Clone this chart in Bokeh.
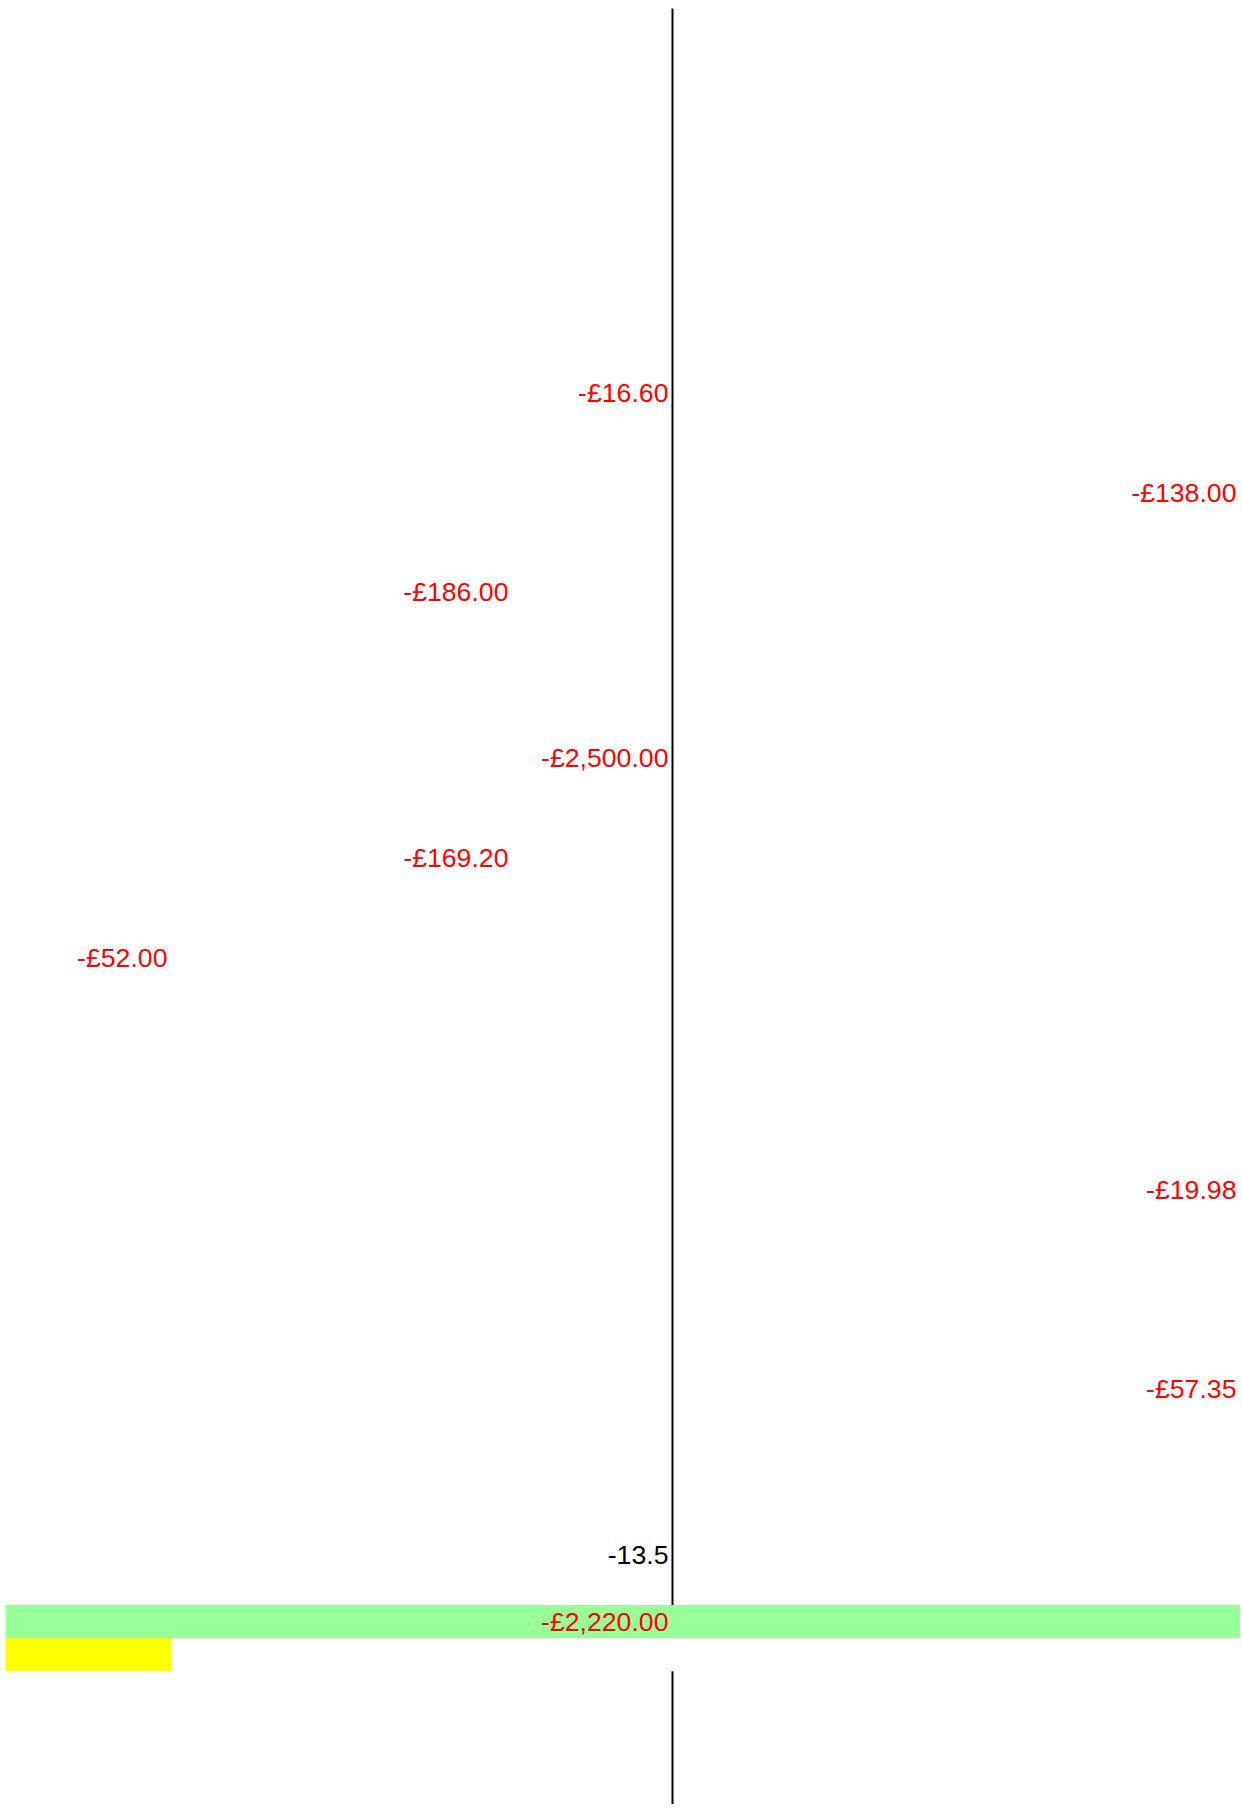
from bokeh.plotting import figure
from bokeh.models import Range1d, ColumnDataSource
from bokeh.core.properties import value
from bokeh.embed import file_html
from bokeh.resources import INLINE

# ---------------- data ----------------
amounts = [-16.60, -138.00, -186.00, -2500.00, -169.20, -52.00, -19.98, -57.35, -2220.00]
amount_rows = [11, 14, 17, 22, 25, 28, 35, 41, 48]
amount_cols = [3, 4, 2, 3, 2, 1, 4, 4, 3]

tick_labels = ["-13.5"]
tick_rows = [46]
tick_cols = [3]

band_rows = [48, 49]
band_start_cols = [0, 0]
band_end_cols = [4, 1]
band_colors = ["#99FF99", "#FFFF00"]

axis_col = 3
axis_gap_rows = [48, 49]

# ---------------- layout ----------------
W, H = 1240, 1804
ORIGIN_X, ORIGIN_Y = 0, 0               # page position of the figure
col_edges = [5, 171, 512, 672, 1240]    # page pixels
ROW_H = 33.2
ROW0_CENTER = 27.4                       # page y of row 0 centre
LINE_TOP = 8


def row_of(page_y):
    return (page_y - ROW0_CENTER) / ROW_H


def money(v):
    s = f"£{abs(v):,.2f}"
    return "-" + s if v < 0 else s


p = figure(width=W, height=H, output_backend="svg", toolbar_location=None,
           x_range=Range1d(ORIGIN_X, ORIGIN_X + W),
           y_range=Range1d(row_of(ORIGIN_Y + H), row_of(ORIGIN_Y)),
           x_axis_location=None, y_axis_location=None,
           min_border=0, outline_line_color=None,
           background_fill_color="white", border_fill_color="white")
p.xgrid.visible = False
p.ygrid.visible = False

# bands
band_src = ColumnDataSource(dict(
    y=band_rows,
    left=[col_edges[c] for c in band_start_cols],
    right=[col_edges[c] for c in band_end_cols],
    color=band_colors,
))
p.hbar(y="y", left="left", right="right", height=1.0, color="color",
       line_color=None, source=band_src)

# vertical axis line with a gap where the bands are
ax_x = col_edges[axis_col]
gap_top = min(axis_gap_rows) - 0.5
gap_bot = max(axis_gap_rows) + 0.5
p.segment(x0=[ax_x, ax_x], x1=[ax_x, ax_x],
          y0=[row_of(LINE_TOP), gap_bot], y1=[gap_top, row_of(ORIGIN_Y + H)],
          line_color="black", line_width=2)

FONT = value("Liberation Sans")
FS = "26.67px"

amt_src = ColumnDataSource(dict(
    x=[col_edges[c] - 4 for c in amount_cols],
    y=amount_rows,
    text=[money(v) for v in amounts],
))
p.text(x="x", y="y", text="text", source=amt_src, text_align="right",
       text_baseline="middle", text_color="#FF0000", text_font=FONT,
       text_font_size=FS)

tick_src = ColumnDataSource(dict(
    x=[col_edges[c] - 4 for c in tick_cols],
    y=tick_rows,
    text=tick_labels,
))
p.text(x="x", y="y", text="text", source=tick_src, text_align="right",
       text_baseline="middle", text_color="black", text_font=FONT,
       text_font_size=FS)

open("out.html", "w").write(file_html(p, INLINE))
